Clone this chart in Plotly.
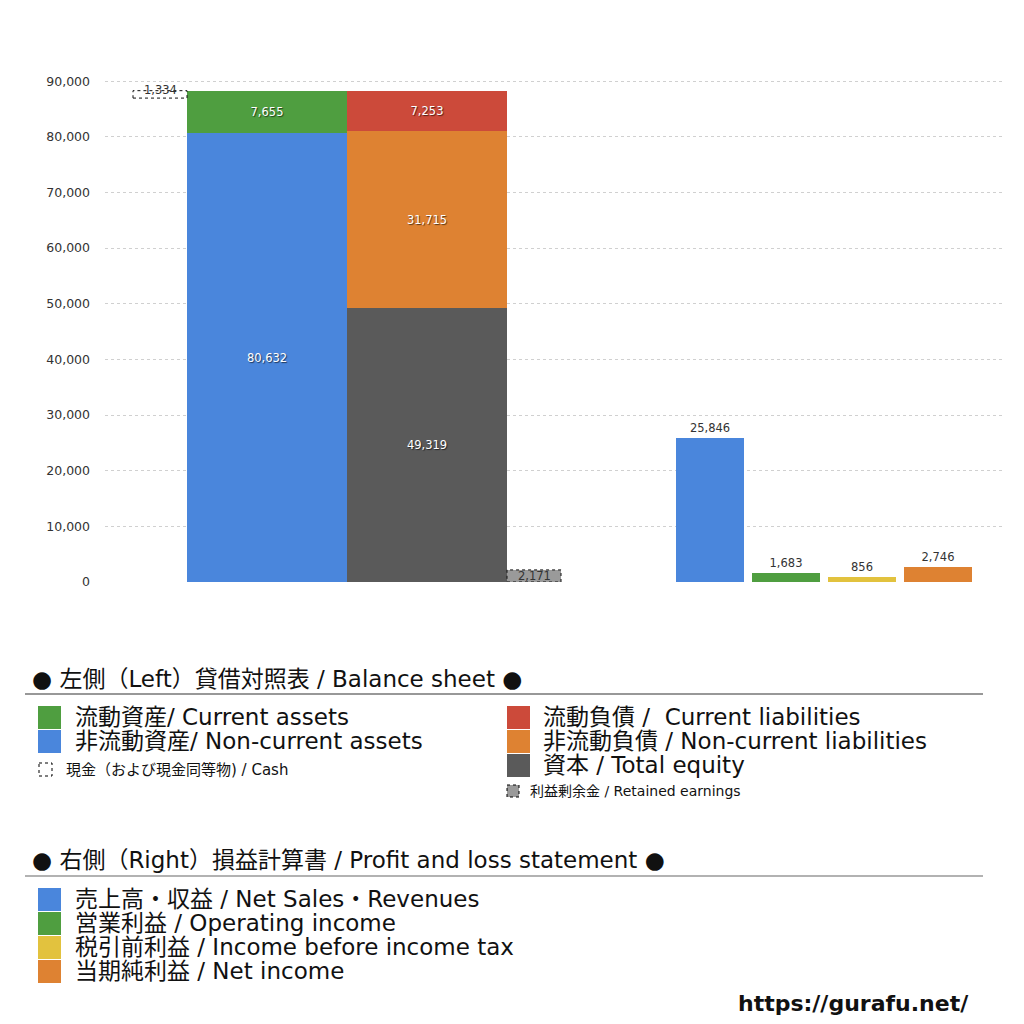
import plotly.graph_objects as go

# Balance sheet (left) and P/L (right), unit: million yen
bs_assets = {"流動資産/ Current assets": 7655, "非流動資産/ Non-current assets": 80632}
bs_liab = {"流動負債 /  Current liabilities": 7253, "非流動負債 / Non-current liabilities": 31715,
           "資本 / Total equity": 49319}
cash = 1334
retained = 2171
pl_names = ["売上高・収益 / Net Sales・Revenues", "営業利益 / Operating income",
            "税引前利益 / Income before income tax", "当期純利益 / Net income"]
pl_values = [25846, 1683, 856, 2746]
y_ticks = [0, 10000, 20000, 30000, 40000, 50000, 60000, 70000, 80000, 90000]

# layout helpers (x axis runs 0..900 across the plot area)
pos_cash, pos_assets, pos_liab, pos_ret = 55, 162, 322, 429
w_small, w_big = 54, 160
pos_pl = [605, 680.5, 756.5, 832.5]
w_pl = 68

GREEN, BLUE, RED, ORANGE, DARK, YELLOW, GRAY = ("#4f9e40", "#4a86dc", "#cc4a3a", "#de8232",
                                               "#5a5a5a", "#e2c23e", "#9a9a9a")
PL_COLORS = [BLUE, GREEN, YELLOW, ORANGE]
FONT = "DejaVu Sans, Noto Sans CJK JP"
shadow = "1px 1px 1px rgba(0,0,0,0.6)"

fig = go.Figure()

# assets stack
base = 0
for name, col in [("非流動資産/ Non-current assets", BLUE), ("流動資産/ Current assets", GREEN)]:
    v = bs_assets[name]
    fig.add_trace(go.Bar(x=[pos_assets], y=[v], base=[base], width=[w_big], marker_color=col,
                         text=[f"{v:,}"], textposition="inside", insidetextanchor="middle",
                         textfont=dict(color="white", size=11.5, shadow=shadow), name=name))
    base += v
total_assets = base

# liabilities + equity stack
base = 0
for name, col in [("資本 / Total equity", DARK), ("非流動負債 / Non-current liabilities", ORANGE),
                  ("流動負債 /  Current liabilities", RED)]:
    v = bs_liab[name]
    fig.add_trace(go.Bar(x=[pos_liab], y=[v], base=[base], width=[w_big], marker_color=col,
                         text=[f"{v:,}"], textposition="inside", insidetextanchor="middle",
                         textfont=dict(color="white", size=11.5, shadow=shadow), name=name))
    base += v

# cash box at the top-left of the assets
fig.add_trace(go.Bar(x=[pos_cash], y=[cash], base=[total_assets - cash], width=[w_small],
                     marker=dict(color="white"), name="Cash"))
fig.add_annotation(x=pos_cash, y=total_assets, text=f"{cash:,}", showarrow=False,
                   yanchor="middle", yshift=1, font=dict(size=11.5, color="#333"))

# retained earnings box
fig.add_trace(go.Bar(x=[pos_ret], y=[retained], base=[0], width=[w_small],
                     marker=dict(color=GRAY), name="Retained"))
fig.add_annotation(x=pos_ret, y=retained / 2, text=f"{retained:,}", showarrow=False,
                   font=dict(size=11.5, color="#333"))

# dotted outline for the two small boxes
for b0, h, xc in [(total_assets - cash, cash, pos_cash), (0, retained, pos_ret)]:
    fig.add_shape(type="rect", xref="x", yref="y", x0=xc - w_small / 2, x1=xc + w_small / 2,
                  y0=b0, y1=b0 + h, line=dict(color="#111", width=1, dash="dot"),
                  fillcolor="rgba(0,0,0,0)")

# P/L bars
for p, name, v, col in zip(pos_pl, pl_names, pl_values, PL_COLORS):
    fig.add_trace(go.Bar(x=[p], y=[v], width=[w_pl], marker_color=col, text=[f"{v:,}"],
                         textposition="outside", cliponaxis=False,
                         textfont=dict(color="#333", size=11.5), name=name))

fig.update_traces(marker_line_width=0)

# ---- legend drawn by hand below the plot ----
L, R, T, B = 105, 19, 70, 442
PW, PH = 1024 - L - R, 1024 - T - B


def px(x):
    return (x - L) / PW


def py(y):
    return (1024 - B - y) / PH


def text(x, y, s, size, bold=False, anchor="left"):
    fig.add_annotation(x=px(x), y=py(y), xref="paper", yref="paper", text=s, showarrow=False,
                       xanchor=anchor, yanchor="middle",
                       font=dict(size=size, color="#111", weight="bold" if bold else "normal"))


def square(x0, y0, size, col, dash=None):
    fig.add_shape(type="rect", xref="paper", yref="paper", x0=px(x0), x1=px(x0 + size),
                  y0=py(y0), y1=py(y0 + size), fillcolor=col,
                  line=dict(width=1 if dash else 0, color="black", dash=dash or "solid"))


def hline(y, col):
    fig.add_shape(type="line", xref="paper", yref="paper", x0=px(25), x1=px(983),
                  y0=py(y), y1=py(y), line=dict(color=col, width=1.2))


text(30, 679, "● 左側（Left）貸借対照表 / Balance sheet ●", 23)
hline(694, "#333")
left_items = [("流動資産/ Current assets", GREEN), ("非流動資産/ Non-current assets", BLUE)]
for i, (s, c) in enumerate(left_items):
    square(38, 706 + 24 * i, 23, c)
    text(73, 717 + 24 * i, s, 23)
square(39, 763, 13, "white", dash="dot")
text(64, 770, "現金（および現金同等物) / Cash", 15)
right_items = [("流動負債 /  Current liabilities", RED), ("非流動負債 / Non-current liabilities", ORANGE),
               ("資本 / Total equity", DARK)]
for i, (s, c) in enumerate(right_items):
    square(507, 706 + 24 * i, 23, c)
    text(541, 717 + 24 * i, s, 23)
square(507, 785, 12, GRAY, dash="dot")
text(528, 791, "利益剰余金 / Retained earnings", 14)

text(30, 860, "● 右側（Right）損益計算書 / Profit and loss statement ●", 23)
hline(876, "#666")
for i, (s, c) in enumerate(zip(pl_names, PL_COLORS)):
    square(38, 888 + 24 * i, 23, c)
    text(73, 899 + 24 * i, s, 23)

text(971, 1003, "https://gurafu.net/", 22, bold=True, anchor="right")

fig.update_layout(
    width=1024, height=1024, barmode="overlay", showlegend=False,
    plot_bgcolor="white", paper_bgcolor="white",
    margin=dict(l=L, r=R, t=T, b=B),
    font=dict(family=FONT, color="#333"),
    xaxis=dict(range=[0, 900], visible=False, fixedrange=True),
    yaxis=dict(range=[0, 92000], tickvals=y_ticks, tickformat=",d", showgrid=True,
               gridcolor="#d0d0d0", griddash="dot", gridwidth=1, zeroline=False,
               tickfont=dict(size=12.5, color="#333"), ticks="", ticklabelstandoff=14),
    bargap=0,
)

fig.write_html("out.html", config={"displayModeBar": False},
               post_script="document.body.style.margin='0';")
